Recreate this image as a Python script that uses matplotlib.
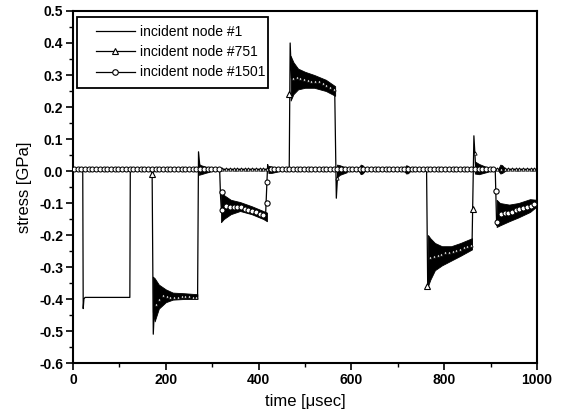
import numpy as np
import matplotlib
matplotlib.use("Agg")
import matplotlib.pyplot as plt
from matplotlib.ticker import MultipleLocator, FuncFormatter
from matplotlib.patches import Rectangle

plt.rcParams['font.family'] = ['Liberation Sans', 'DejaVu Sans']

# ---------------- data ----------------
labels = ["incident node #1", "incident node #751", "incident node #1501"]

# node #1 : plain line
t_n1 = [0, 21, 22, 23.5, 26, 122.5, 123.5, 1000]
s_n1 = [0.005, 0.005, -0.43, -0.40, -0.395, -0.395, 0.005, 0.005]

# node #751 : triangles
t_n751 = [0, 169, 170.5, 173, 176, 180, 190, 210, 240, 268.5, 270.5, 274,
          466, 468, 471, 480, 500, 530, 564, 567.5, 571,
          762, 764.5, 768, 780, 800, 830, 860, 864, 868, 1000]
s_n751 = [0.005, 0.005, 0.0, -0.51, -0.41, -0.42, -0.385, -0.395, -0.39, -0.395, 0.06, 0.005,
          0.005, 0.40, 0.29, 0.295, 0.285, 0.28, 0.255, -0.085, 0.005,
          0.005, -0.37, -0.27, -0.265, -0.255, -0.245, -0.23, 0.11, 0.005, 0.005]

# node #1501 : circles
t_n1501 = [0, 316, 318, 320, 325, 340, 360, 385, 415, 419.5, 421, 424,
           910, 913, 916, 940, 960, 985, 1000]
s_n1501 = [0.005, 0.005, -0.08, -0.13, -0.11, -0.112, -0.113, -0.125, -0.14, 0.02, 0.005, 0.005,
           0.005, -0.17, -0.135, -0.13, -0.12, -0.11, -0.10]

# oscillation envelopes (dense ringing drawn as filled bands)
bands = [
    # (times, upper, lower)
    ([172, 176, 185, 200, 215, 240, 268],
     [-0.33, -0.335, -0.355, -0.37, -0.38, -0.382, -0.385],
     [-0.44, -0.47, -0.43, -0.41, -0.402, -0.40, -0.40]),
    ([469, 475, 485, 500, 520, 545, 565],
     [0.36, 0.34, 0.32, 0.31, 0.30, 0.285, 0.265],
     [0.22, 0.24, 0.255, 0.26, 0.26, 0.25, 0.235]),
    ([765, 770, 780, 795, 815, 835, 860],
     [-0.20, -0.21, -0.225, -0.235, -0.235, -0.225, -0.21],
     [-0.36, -0.34, -0.31, -0.295, -0.28, -0.265, -0.245]),
    ([319, 325, 340, 360, 385, 410, 418],
     [-0.065, -0.075, -0.09, -0.097, -0.11, -0.125, -0.13],
     [-0.16, -0.15, -0.135, -0.125, -0.135, -0.15, -0.157]),
    ([913, 920, 940, 960, 985, 1000],
     [-0.09, -0.10, -0.105, -0.10, -0.088, -0.09],
     [-0.175, -0.17, -0.157, -0.145, -0.128, -0.11]),
    # small ringing bursts around zero
    ([271, 276, 285, 295], [0.022, 0.018, 0.014, 0.01], [-0.012, -0.01, -0.006, -0.002]),
    ([421, 428, 440], [0.016, 0.014, 0.01], [-0.006, -0.006, -0.002]),
    ([569, 575, 590], [0.02, 0.018, 0.01], [-0.02, -0.012, -0.004]),
    ([616, 620, 624, 629], [0.008, 0.02, 0.018, 0.008], [0.0, -0.01, -0.008, 0.0]),
    ([714, 718, 722, 727], [0.008, 0.018, 0.016, 0.008], [0.0, -0.008, -0.007, 0.0]),
    ([866, 875, 895], [0.03, 0.022, 0.01], [-0.008, -0.01, -0.002]),
    ([917, 921, 925, 931], [0.008, 0.02, 0.018, 0.008], [0.0, -0.008, -0.006, 0.0]),
]

# markers that sit on the jumps
tri_jump_t = [170, 465, 763, 862]
tri_jump_s = [-0.01, 0.24, -0.36, -0.12]
circ_jump_t = [321, 418, 912]
circ_jump_s = [-0.066, -0.10, -0.063]

# ---------------- figure ----------------
fig = plt.figure(figsize=(5.67, 4.15), dpi=100)
ax = fig.add_axes([73 / 567, 1 - 363 / 415, (537 - 73) / 567, (363 - 11) / 415])

for bt, bu, bl in bands:
    ax.fill_between(bt, bl, bu, color='black', lw=0.6, zorder=2)

ax.plot(t_n1, s_n1, color='black', lw=0.9, zorder=3)
ax.plot(t_n751, s_n751, color='black', lw=0.9, zorder=3)
ax.plot(t_n1501, s_n1501, color='black', lw=0.9, zorder=3)

mk_t = np.arange(2, 1000, 8)
ax.plot(mk_t, np.interp(mk_t, t_n751, s_n751), ls='none', marker='^', ms=2.4,
        mfc='white', mec='black', mew=0.6, zorder=4)
ax.plot(tri_jump_t, tri_jump_s, ls='none', marker='^', ms=3.8,
        mfc='white', mec='black', mew=0.8, zorder=5)
ax.plot(mk_t, np.interp(mk_t, t_n1501, s_n1501), ls='none', marker='o', ms=3.6,
        mfc='white', mec='black', mew=0.75, zorder=5)
ax.plot(circ_jump_t, circ_jump_s, ls='none', marker='o', ms=3.8,
        mfc='white', mec='black', mew=0.8, zorder=5)

# legend (frameless) + manual frame
h1, = ax.plot([], [], color='black', lw=0.9)
h2, = ax.plot([], [], color='black', lw=0.9, marker='^', ms=4, mfc='white', mec='black', mew=0.8)
h3, = ax.plot([], [], color='black', lw=0.9, marker='o', ms=4, mfc='white', mec='black', mew=0.8)
leg = ax.legend([h1, h2, h3], labels, loc='upper left',
                bbox_to_anchor=((96 - 73) / 464, 1 - (25 - 11) / 352), borderaxespad=0,
                fontsize=10, frameon=False, handlelength=2.8, numpoints=1,
                labelspacing=0.45, handletextpad=0.4, borderpad=0)
leg.set_zorder(7)
frame = Rectangle(((77 - 73) / 464, 1 - (88 - 11) / 352), (268 - 77) / 464, (88 - 17) / 352,
                  transform=ax.transAxes, fill=True, facecolor='white', edgecolor='black',
                  lw=1.3, zorder=6)
ax.add_patch(frame)

ax.set_xlim(0, 1000)
ax.set_ylim(-0.6, 0.5)
ax.xaxis.set_major_locator(MultipleLocator(200))
ax.xaxis.set_minor_locator(MultipleLocator(100))
ax.yaxis.set_major_locator(MultipleLocator(0.1))
ax.yaxis.set_minor_locator(MultipleLocator(0.05))

def yfmt(v, pos):
    s = f"{v:.1f}"
    return "0.0" if s == "-0.0" else s
ax.yaxis.set_major_formatter(FuncFormatter(yfmt))
ax.xaxis.set_major_formatter(FuncFormatter(lambda v, p: f"{int(round(v))}"))

ax.tick_params(which='major', direction='out', length=5, width=1.2, labelsize=10, pad=2,
               top=False, right=False)
ax.tick_params(which='minor', direction='out', length=3, width=1.0, top=False, right=False)
for lab in ax.get_xticklabels() + ax.get_yticklabels():
    lab.set_fontweight('bold')
for sp in ax.spines.values():
    sp.set_linewidth(1.5)

ax.set_xlabel("time [\u03bcsec]", fontsize=12, labelpad=5)
ax.set_ylabel("stress [GPa]", fontsize=12, labelpad=5)

fig.savefig("out.png", dpi=100)
